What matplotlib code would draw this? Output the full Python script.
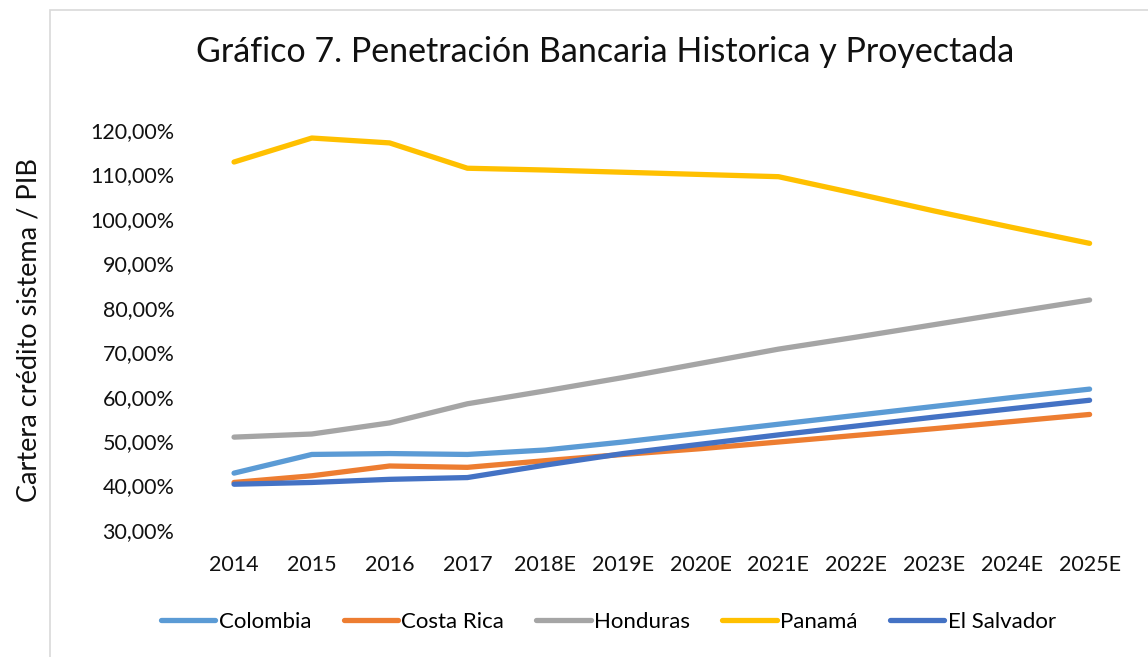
import matplotlib.pyplot as plt
from matplotlib.ticker import FuncFormatter
from matplotlib.patches import Rectangle

years = ['2014', '2015', '2016', '2017', '2018E', '2019E', '2020E',
         '2021E', '2022E', '2023E', '2024E', '2025E']

colombia = [42.8, 47.0, 47.2, 47.0, 48.0, 49.8, 51.8, 53.8, 55.8, 57.8, 59.8, 61.7]
costa_rica = [40.7, 42.2, 44.4, 44.1, 45.6, 47.0, 48.3, 49.8, 51.3, 52.8, 54.4, 56.0]
honduras = [50.9, 51.6, 54.1, 58.4, 61.3, 64.3, 67.5, 70.7, 73.4, 76.2, 79.0, 81.75]
panama = [112.8, 118.2, 117.1, 111.4, 111.0, 110.5, 110.0, 109.5, 105.7, 101.8, 98.1, 94.5]
el_salvador = [40.3, 40.7, 41.4, 41.8, 44.6, 47.2, 49.3, 51.4, 53.4, 55.4, 57.3, 59.2]

series = [
    ('Colombia', colombia, '#5B9BD5'),
    ('Costa Rica', costa_rica, '#ED7D31'),
    ('Honduras', honduras, '#A5A5A5'),
    ('Panamá', panama, '#FFC000'),
    ('El Salvador', el_salvador, '#4472C4'),
]

plt.rcParams['font.family'] = ['Lato', 'DejaVu Sans']

fig = plt.figure(figsize=(11.48, 6.57), dpi=100)
ax = fig.add_axes([0.170, 0.1933, 0.813, 0.6088])

x = list(range(len(years)))
for name, vals, color in series:
    ax.plot(x, vals, color=color, lw=3.8, solid_capstyle='round',
            solid_joinstyle='round', label=name)

ax.set_xlim(-0.5, len(years) - 0.5)
ax.set_ylim(30, 120)
ax.set_yticks(range(30, 121, 10))
ax.yaxis.set_major_formatter(FuncFormatter(lambda v, p: f'{v:.2f}'.replace('.', ',') + '%'))
ax.set_xticks(x)
ax.set_xticklabels(years)
ax.tick_params(axis='both', length=0, labelsize=15.5, colors='#111111')
ax.tick_params(axis='x', pad=18)
ax.tick_params(axis='y', pad=15)
for s in ax.spines.values():
    s.set_visible(False)

ax.set_ylabel('Cartera crédito sistema / PIB', fontsize=19.5, color='#111111')
ax.yaxis.set_label_coords(-0.165, 0.50)
fig.text(0.527, 0.921, 'Gráfico 7. Penetración Bancaria Historica y Proyectada',
         ha='center', va='center', fontsize=24.5, color='#111111')

fig.legend(loc='center', bbox_to_anchor=(0.53, 0.053), ncol=5, frameon=False,
           fontsize=16, handlelength=2.45, handletextpad=0.15, columnspacing=1.45)

# chart area border
fig.patches.append(Rectangle((50 / 1148, -0.01), 1.1, 1 - 10 / 657 + 0.01,
                             transform=fig.transFigure, fill=False,
                             edgecolor='#D9D9D9', lw=1.2))

fig.savefig('out.png', dpi=100)
